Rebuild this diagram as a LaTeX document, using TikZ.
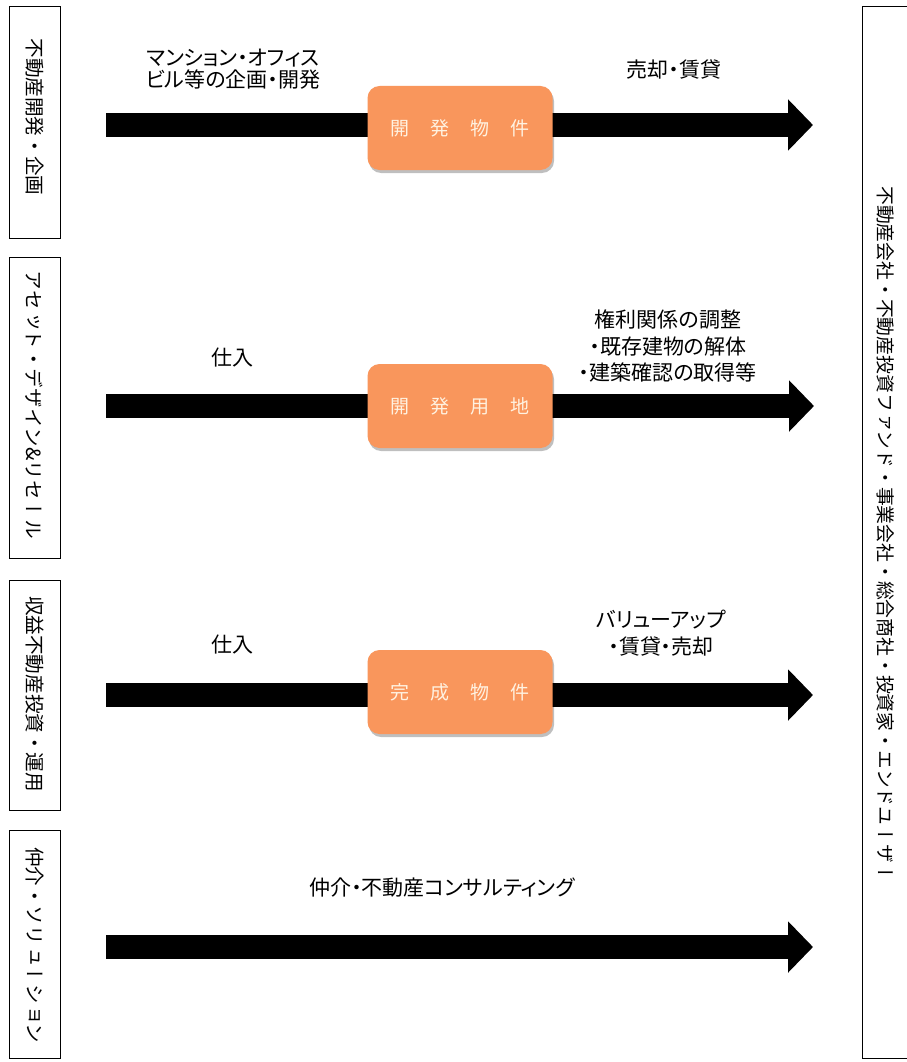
\documentclass[tikz,border=0pt]{standalone}
\usepackage{fontspec}
\usetikzlibrary{arrows.meta,shadows}
\newfontfamily\jp{Noto Sans CJK JP}
\newfontfamily\jpp[RawFeature=+palt]{Noto Sans CJK JP}
\newfontfamily\jpv[Vertical=RotatedGlyphs]{Noto Sans CJK JP}
\definecolor{boxorange}{RGB}{249,150,92}
\definecolor{boxtext}{RGB}{255,242,225}
\tikzset{
  bigarrow/.style={line width=24pt, draw=black, -{Triangle[length=25pt,width=50pt]}},
  sidebox/.style={draw=black, line width=1pt, minimum width=51pt, inner sep=0pt},
  vlabel/.style={rotate=-90, inner sep=0pt, font=\jpv\fontsize{19.6}{19.6}\selectfont},
  rlabel/.style={rotate=-90, inner sep=0pt, font=\jpv\fontsize{18.8}{18.8}\selectfont},
  hlabel/.style={align=center, inner sep=0pt, font=\jpp\fontsize{21}{22.5}\selectfont},
  hlabelw/.style={align=center, inner sep=0pt, font=\jpp\fontsize{21}{26.5}\selectfont},
  stock/.style={fill=boxorange, rounded corners=12pt, minimum width=185pt, minimum height=84pt,
    inner sep=0pt, text=boxtext, font=\jp\fontsize{19}{19}\selectfont,
    drop shadow={shadow xshift=1.5pt, shadow yshift=-3pt, fill=black, opacity=0.25}},
}
\begin{document}
\begin{tikzpicture}[x=1pt,y=-1pt]
\useasboundingbox[fill=white] (0,0) rectangle (906,1062);

% left category boxes
\node[sidebox, minimum height=231pt] (b1) at (34.5,122.5) {};
\node[sidebox, minimum height=301pt] (b2) at (34.5,407.5) {};
\node[sidebox, minimum height=230pt] (b3) at (34.5,695) {};
\node[sidebox, minimum height=228pt] (b4) at (34.5,944) {};
\node[vlabel] (v1) at (34.5,117) {不動産開発・企画};
\node[vlabel] (v2) at (34.5,405) {アセット・デザイン\&リセール};
\node[vlabel] (v3) at (34.5,694) {収益不動産投資・運用};
\node[vlabel] (v4) at (34.5,945) {仲介・ソリューション};

% right customer box
\draw[line width=1pt] (862,7) rectangle (950,1058);
\node[rlabel] (rl) at (886,534) {不動産会社・不動産投資ファンド・事業会社・総合商社・投資家・エンドユーザー};

% arrows
\coordinate (s1) at (106,125);  \coordinate (e1) at (813,125);
\coordinate (s2) at (106,406);  \coordinate (e2) at (814,406);
\coordinate (s3) at (106,695);  \coordinate (e3) at (813,695);
\coordinate (s4) at (106,947);  \coordinate (e4) at (813,947);
\draw[bigarrow] (s1) -- (e1);
\draw[bigarrow] (s2) -- (e2);
\draw[bigarrow] (s3) -- (e3);
\draw[bigarrow] (s4) -- (e4);

% orange stock boxes
\node[stock] (k1) at (460,128) {開\hspace{21pt}発\hspace{21pt}物\hspace{21pt}件};
\node[stock] (k2) at (460,406) {開\hspace{21pt}発\hspace{21pt}用\hspace{21pt}地};
\node[stock] (k3) at (460,692) {完\hspace{21pt}成\hspace{21pt}物\hspace{21pt}件};

% labels
\node[hlabel] (t1) at (233,69) {マンション・オフィス\\ビル等の企画・開発};
\node[hlabel] (t2) at (674,70) {売却・賃貸};
\node[hlabel] (t3) at (232,358) {仕入};
\node[hlabelw] (t4) at (668,346) {権利関係の調整\\・既存建物の解体\\・建築確認の取得等};
\node[hlabel] (t5) at (232,645) {仕入};
\node[hlabelw] (t6) at (661,633) {バリューアップ\\・賃貸・売却};
\node[hlabel] (t7) at (442,888) {仲介・不動産コンサルティング};
\end{tikzpicture}
\end{document}
